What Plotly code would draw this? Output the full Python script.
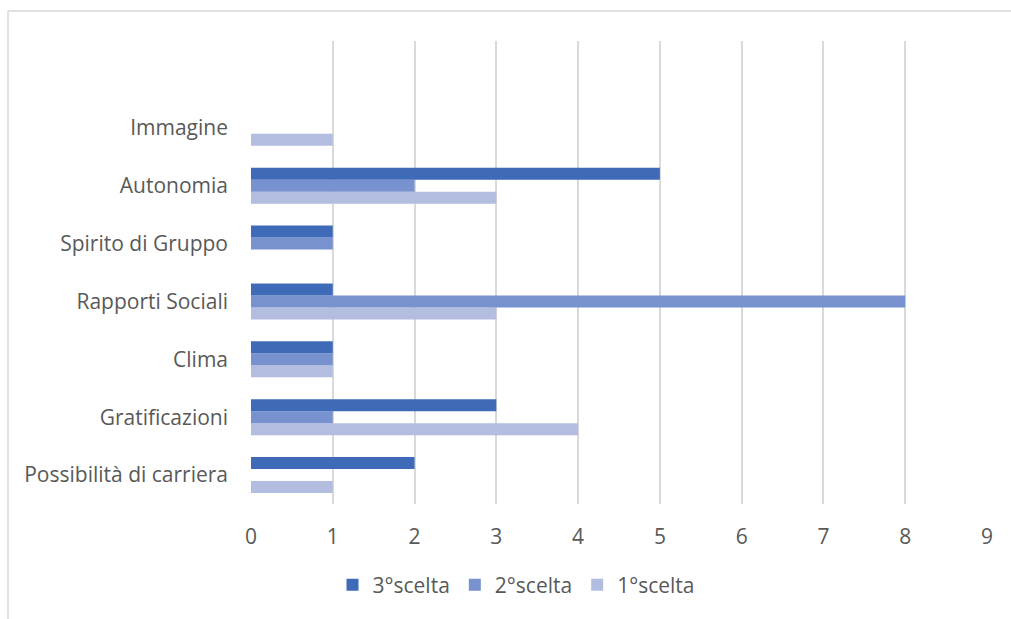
import plotly.graph_objects as go

categories = ["Possibilità di carriera", "Gratificazioni", "Clima", "Rapporti Sociali",
              "Spirito di Gruppo", "Autonomia", "Immagine"]
scelta1 = [1, 4, 1, 3, 0, 3, 1]
scelta2 = [0, 1, 1, 8, 1, 2, 0]
scelta3 = [2, 3, 1, 1, 1, 5, 0]
series_names = ["1°scelta", "2°scelta", "3°scelta"]
colors = ["#B2BDDF", "#7891CF", "#3F6AB7"]
x_ticks = list(range(0, 10))

W, H = 1011, 619
L, R, T, B = 251, 24, 41, 115
pw, ph = W - L - R, H - T - B

def px_x(x):
    return (x - L) / pw

def px_y(y):
    return (H - B - y) / ph

fig = go.Figure()
for name, vals, col in zip(series_names, [scelta1, scelta2, scelta3], colors):
    fig.add_trace(go.Bar(y=categories, x=vals, name=name, orientation="h",
                         marker=dict(color=col, line=dict(width=0))))

font_family = "'Open Sans', sans-serif"
fs = 21
fig.update_layout(
    width=W, height=H,
    margin=dict(l=L, r=R, t=T, b=B),
    paper_bgcolor="white", plot_bgcolor="white",
    barmode="group", bargap=0.38, bargroupgap=0,
    font=dict(family=font_family, size=fs, color="#595959"),
    xaxis=dict(range=[0, 9], tickvals=x_ticks, showgrid=True, gridcolor="#D9D9D9",
               gridwidth=1.5, zeroline=False, showline=False, ticks="",
               ticklabelstandoff=18, tickfont=dict(size=fs, color="#595959")),
    yaxis=dict(type="category", categoryorder="array", categoryarray=categories,
               range=[-0.5, 7.5], showgrid=False, zeroline=False, showline=False,
               ticks="", ticklabelstandoff=22, tickfont=dict(size=fs, color="#595959")),
    legend=dict(orientation="h", x=px_x(516), xanchor="center", y=px_y(585), yanchor="middle",
                traceorder="reversed", font=dict(size=fs, color="#595959"),
                itemwidth=30, bgcolor="rgba(0,0,0,0)"),
    showlegend=True,
    shapes=[
        dict(type="line", xref="paper", yref="paper", x0=px_x(8), x1=px_x(1011),
             y0=px_y(11), y1=px_y(11), line=dict(color="#D9D9D9", width=1.5)),
        dict(type="line", xref="paper", yref="paper", x0=px_x(8), x1=px_x(8),
             y0=px_y(11), y1=px_y(619), line=dict(color="#D9D9D9", width=1.5)),
    ],
)

fig.write_html("out.html")
